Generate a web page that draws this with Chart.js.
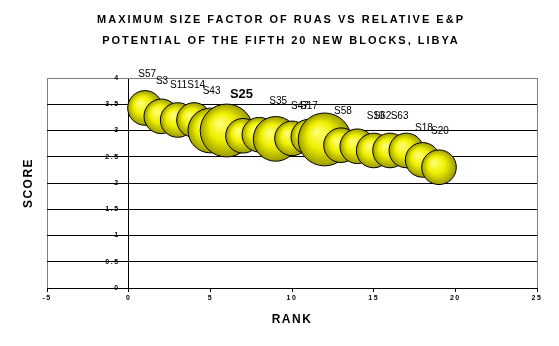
<!DOCTYPE html>
<html>
<head>
<meta charset="utf-8">
<script src="https://cdn.jsdelivr.net/npm/chart.js@4/dist/chart.umd.min.js"></script>
<style>
  html, body { margin: 0; padding: 0; background: #fff; overflow: hidden; }
  canvas { display: block; }
</style>
</head>
<body>
<canvas id="myChart" width="559" height="346"></canvas>
<script>
// Data
const ranks = [1, 2, 3, 4, 5, 6, 7, 8, 9, 10, 11, 12, 13, 14, 15, 16, 17, 18, 19];
const scores = [3.43, 3.27, 3.20, 3.20, 3.00, 3.00, 2.90, 2.92, 2.84, 2.85, 2.88, 2.83, 2.72, 2.70, 2.62, 2.62, 2.62, 2.44, 2.30];
const sizes = [3, 3, 3, 3, 5, 7, 3, 3, 5, 3, 3, 7, 3, 3, 3, 3, 3, 3, 3];

// block labels and where they sit (rank / score units)
const labelNames = ["S57", "S3", "S11", "S14", "S43", "S25", "S35", "S47", "S17", "S58", "S10", "S62", "S63", "S18", "S20"];
const labelRanks = [0.59, 1.67, 2.53, 3.59, 4.53, 6.20, 8.61, 9.94, 10.49, 12.57, 14.57, 14.99, 16.04, 17.53, 18.51];
const labelScores = [4.07, 3.93, 3.87, 3.87, 3.75, 3.69, 3.55, 3.47, 3.47, 3.36, 3.28, 3.28, 3.28, 3.05, 2.98];
const boldLabel = "S25";

const titleLines = ["MAXIMUM SIZE FACTOR OF RUAS VS RELATIVE E&P", "POTENTIAL OF THE FIFTH 20 NEW BLOCKS, LIBYA"];
const xTitle = "RANK";
const yTitle = "SCORE";

// Constants
const FONT = "'Liberation Sans', Arial, sans-serif";

// bubble area ~ size
function bubbleRadius(size) {
    return 10 * Math.sqrt(size);
}

function bubbleFill(c) {
    const chart = c.chart;
    if (c.type !== "data" || !chart.chartArea) return "#eeee00";
    const i = c.dataIndex;
    const px = chart.scales.x.getPixelForValue(ranks[i]);
    const py = chart.scales.y.getPixelForValue(scores[i]);
    const r = bubbleRadius(sizes[i]);
    const g = chart.ctx.createRadialGradient(px - r * 0.3, py - r * 0.3, 0, px, py, r);
    g.addColorStop(0, "#ffff80");
    g.addColorStop(0.5, "#f0f000");
    g.addColorStop(1, "#9c9c00");
    return g;
}

const bubbleData = ranks.map(function (rk, i) {
    return { x: rk, y: scores[i], r: bubbleRadius(sizes[i]) };
});

// Plugins
const spacingPlugin = {
    id: "spacing",
    beforeDraw(chart) {
        chart.ctx.letterSpacing = "1.5px";
    }
};

const labelPlugin = {
    id: "blockLabels",
    afterDatasetsDraw(chart) {
        const ctx = chart.ctx;
        ctx.save();
        ctx.letterSpacing = "0px";
        ctx.fillStyle = "#000";
        ctx.textAlign = "left";
        ctx.textBaseline = "middle";
        labelNames.forEach(function (name, i) {
            const px = chart.scales.x.getPixelForValue(labelRanks[i]);
            const py = chart.scales.y.getPixelForValue(labelScores[i]);
            ctx.font = name === boldLabel ? "bold 13px " + FONT : "10px " + FONT;
            ctx.fillText(name, px, py);
        });
        ctx.restore();
    }
};

const titlePlugin = {
    id: "bigTitle",
    afterDraw(chart) {
        const ctx = chart.ctx;
        ctx.save();
        ctx.letterSpacing = "2px";
        ctx.font = "bold 11px " + FONT;
        ctx.fillStyle = "#000";
        ctx.textAlign = "center";
        ctx.textBaseline = "middle";
        ctx.fillText(titleLines[0], 281, 20);
        ctx.fillText(titleLines[1], 281, 41);
        ctx.restore();
    }
};

let myChart = document.getElementById("myChart").getContext("2d");

let bubbleChart = new Chart(myChart, {
    type: "bubble",
    data: {
        datasets: [{
            label: "Blocks",
            data: bubbleData,
            backgroundColor: bubbleFill,
            borderColor: "#000",
            borderWidth: 1,
            yAxisID: "y"
        }]
    },
    options: {
        responsive: false,
        animation: false,
        events: [],
        layout: { autoPadding: false, padding: { top: 78, right: 22, left: 0, bottom: 0 } },
        plugins: {
            legend: { display: false },
            tooltip: { enabled: false }
        },
        scales: {
            x: {
                type: "linear",
                min: -5,
                max: 25,
                ticks: {
                    stepSize: 5,
                    color: "#000",
                    padding: 2,
                    font: { family: FONT, size: 7, weight: "bold" }
                },
                grid: {
                    color: function (c) {
                        const v = c.tick ? c.tick.value : null;
                        if (v === 0) return "#000";
                        if (v === -5 || v === 25) return "#808080";
                        return "rgba(0,0,0,0)";
                    },
                    tickColor: "#000",
                    tickLength: 4,
                    lineWidth: 1
                },
                border: { display: true, color: "#000" },
                title: {
                    display: true,
                    text: xTitle,
                    color: "#000",
                    font: { family: FONT, size: 12, weight: "bold" },
                    padding: { top: 0, bottom: 19 }
                },
                afterFit: function (s) { s.height = 58; }
            },
            y: {
                position: "left",
                min: 0,
                max: 4,
                ticks: { display: false, stepSize: 0.5 },
                grid: {
                    drawTicks: false,
                    color: function (c) {
                        return c.tick && c.tick.value === 4 ? "#808080" : "#000";
                    }
                },
                border: { display: false },
                title: {
                    display: true,
                    text: yTitle,
                    color: "#000",
                    font: { family: FONT, size: 12, weight: "bold" },
                    padding: { top: 21, bottom: 0 }
                },
                afterFit: function (s) { s.width = 47; }
            },
            yTicks: {
                position: { x: -0.56 },
                min: 0,
                max: 4,
                ticks: {
                    stepSize: 0.5,
                    color: "#000",
                    font: { family: FONT, size: 7, weight: "bold" },
                    callback: function (value) { return String(value); }
                },
                grid: { display: false },
                border: { display: false },
                afterFit: function (s) { s.width = 0; }
            }
        }
    },
    plugins: [spacingPlugin, labelPlugin, titlePlugin]
});
</script>
</body>
</html>
